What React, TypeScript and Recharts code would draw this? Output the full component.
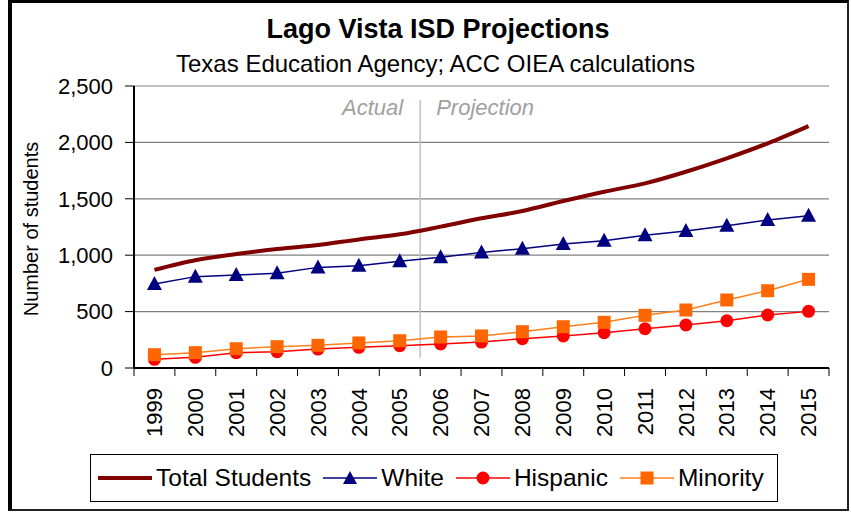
import React from 'react';
import { LineChart, Line, XAxis, YAxis, CartesianGrid, Legend, ReferenceLine } from 'recharts';

const years = ['1999', '2000', '2001', '2002', '2003', '2004', '2005', '2006', '2007', '2008', '2009', '2010', '2011', '2012', '2013', '2014', '2015'];
const totalStudents = [870, 955, 1010, 1055, 1090, 1140, 1185, 1253, 1327, 1392, 1480, 1563, 1637, 1740, 1859, 1992, 2145];
const white = [745, 810, 824, 839, 892, 907, 946, 981, 1025, 1058, 1099, 1129, 1176, 1215, 1262, 1312, 1350];
const hispanic = [77, 95, 136, 145, 168, 183, 198, 213, 230, 260, 284, 313, 348, 381, 419, 470, 502];
const minority = [118, 136, 171, 189, 201, 222, 242, 275, 284, 322, 366, 405, 467, 514, 603, 685, 786];
const yTicks = [0, 500, 1000, 1500, 2000, 2500];
const lastActualYear = '2005';
const seriesOrder = ['total', 'white', 'hispanic', 'minority'];

const data = years.map((year, i) => ({
  year,
  total: totalStudents[i],
  white: white[i],
  hispanic: hispanic[i],
  minority: minority[i],
}));

const FONT = '"Liberation Sans", Arial, sans-serif';

// excel-style category ticks sit between the years, labels run up the page
const YearTick = (props: any) => {
  const { x, y, payload, index } = props;
  const half = payload?.offset ?? 0;
  return (
    <g>
      <line x1={x - half} x2={x - half} y1={y} y2={y + 8} stroke="#000" strokeWidth={1} />
      {index === years.length - 1 && (
        <line x1={x + half} x2={x + half} y1={y} y2={y + 8} stroke="#000" strokeWidth={1} />
      )}
      <text
        x={x}
        y={y + 20}
        transform={`rotate(-90, ${x}, ${y + 20})`}
        textAnchor="end"
        dy="0.35em"
        fontSize={22}
        fontFamily={FONT}
        fill="#000"
      >
        {payload.value}
      </text>
    </g>
  );
};

const Triangle = (props: any) => {
  const { cx, cy } = props;
  if (cx == null || cy == null) return null;
  return <polygon points={`${cx},${cy - 8} ${cx - 7.5},${cy + 6} ${cx + 7.5},${cy + 6}`} fill="#000080" />;
};

const Circle = (props: any) => {
  const { cx, cy } = props;
  if (cx == null || cy == null) return null;
  return <circle cx={cx} cy={cy} r={6.5} fill="#FF0000" />;
};

const Square = (props: any) => {
  const { cx, cy } = props;
  if (cx == null || cy == null) return null;
  return <rect x={cx - 6.5} y={cy - 6.5} width={13} height={13} fill="#FF6600" />;
};

const DividerLabel = (props: any) => {
  const { viewBox } = props;
  const x = viewBox?.x ?? 0;
  const y = viewBox?.y ?? 0;
  return (
    <g fontFamily={FONT} fontSize={22} fontStyle="italic" fill="#A0A0A0">
      <text x={x - 17} y={y + 29} textAnchor="end">Actual</text>
      <text x={x + 16} y={y + 29} textAnchor="start">Projection</text>
    </g>
  );
};

const legendMarks: Record<string, (c: string) => React.ReactNode> = {
  total: () => null,
  white: (c) => <polygon points="27,3 20,16 34,16" fill={c} />,
  hispanic: (c) => <circle cx={27} cy={10} r={6.5} fill={c} />,
  minority: (c) => <rect x={20.5} y={3.5} width={13} height={13} fill={c} />,
};

const LegendBox = (props: any) => {
  const entries = [...(props.payload || [])].sort(
    (a: any, b: any) => seriesOrder.indexOf(a.dataKey) - seriesOrder.indexOf(b.dataKey)
  );
  return (
    <div
      style={{
        border: '1px solid #000',
        height: 48,
        boxSizing: 'border-box',
        display: 'flex',
        alignItems: 'center',
        paddingLeft: 7,
        fontFamily: FONT,
        fontSize: 24.5,
        color: '#000',
        whiteSpace: 'nowrap',
      }}
    >
      {entries.map((entry: any) => {
        const key = entry.dataKey as string;
        const isTotal = key === 'total';
        return (
          <div key={key} style={{ display: 'flex', alignItems: 'center', marginRight: 12, flexShrink: 0 }}>
            <svg width={54} height={20} style={{ marginRight: 4 }}>
              <line x1={0} x2={54} y1={10} y2={10} stroke={entry.color} strokeWidth={isTotal ? 4 : 1.5} />
              {legendMarks[key](key === 'minority' ? '#FF6600' : entry.color)}
            </svg>
            <span>{entry.value}</span>
          </div>
        );
      })}
    </div>
  );
};

export default function App() {
  return (
    <div style={{ position: 'absolute', left: 0, top: 0, width: 851, height: 512, background: '#fff', overflow: 'hidden' }}>
      <div
        style={{
          position: 'absolute',
          left: 8,
          top: 0,
          width: 841,
          height: 511,
          boxSizing: 'border-box',
          borderTop: '3px solid #000',
          borderLeft: '4px solid #000',
          borderRight: '2px solid #222',
          borderBottom: '2px solid #222',
        }}
      />
      <div style={{ position: 'absolute', left: 0, width: 876, top: 14, textAlign: 'center', fontFamily: FONT, fontWeight: 'bold', fontSize: 27 }}>
        Lago Vista ISD Projections
      </div>
      <div style={{ position: 'absolute', left: 0, width: 871, top: 50, textAlign: 'center', fontFamily: FONT, fontSize: 24 }}>
        Texas Education Agency; ACC OIEA calculations
      </div>
      <div
        style={{
          position: 'absolute',
          left: 31,
          top: 229,
          transform: 'translate(-50%, -50%) rotate(-90deg)',
          whiteSpace: 'nowrap',
          fontFamily: FONT,
          fontSize: 20,
        }}
      >
        Number of students
      </div>
      <LineChart
        width={851}
        height={512}
        data={data}
        margin={{ top: 86, right: 22, left: 0, bottom: 84 }}
        style={{ position: 'absolute', left: 0, top: 0 }}
      >
        <CartesianGrid vertical={false} stroke="#808080" strokeWidth={1.2} />
        <XAxis
          dataKey="year"
          scale="band"
          interval={0}
          height={60}
          tickSize={0}
          tickMargin={0}
          tickLine={false}
          axisLine={{ stroke: '#000', strokeWidth: 2 }}
          tick={<YearTick />}
        />
        <YAxis
          width={134}
          domain={[0, 2500]}
          ticks={yTicks}
          tickFormatter={(v: number) => v.toLocaleString('en-US')}
          tickSize={9}
          tickMargin={12}
          tickLine={{ stroke: '#000' }}
          axisLine={{ stroke: '#000', strokeWidth: 2 }}
          tick={{ fill: '#000', fontSize: 22, fontFamily: FONT }}
        />
        <YAxis yAxisId="r" orientation="right" width={0} domain={[0, 2500]} tick={false} tickLine={false} axisLine={{ stroke: '#808080', strokeWidth: 1.5 }} />
        <ReferenceLine
          segment={[{ x: lastActualYear, y: 90 }, { x: lastActualYear, y: 2375 }]}
          position="end"
          stroke="#C0C0C0"
          strokeWidth={1.5}
        />
        <ReferenceLine
          x={lastActualYear}
          position="end"
          stroke="none"
          label={<DividerLabel />}
        />
        <Legend
          layout="horizontal"
          verticalAlign="middle"
          align="center"
          wrapperStyle={{ left: 90, top: 454, width: 688 }}
          content={<LegendBox />}
        />
        <Line name="Total Students" type="monotone" dataKey="total" stroke="#800000" strokeWidth={4} dot={false} isAnimationActive={false} />
        <Line name="White" type="linear" dataKey="white" stroke="#000080" strokeWidth={1.5} dot={<Triangle />} isAnimationActive={false} />
        <Line name="Hispanic" type="linear" dataKey="hispanic" stroke="#FF0000" strokeWidth={1.5} dot={<Circle />} isAnimationActive={false} />
        <Line name="Minority" type="linear" dataKey="minority" stroke="#FF7F1A" strokeWidth={1.5} dot={<Square />} isAnimationActive={false} />
      </LineChart>
    </div>
  );
}
